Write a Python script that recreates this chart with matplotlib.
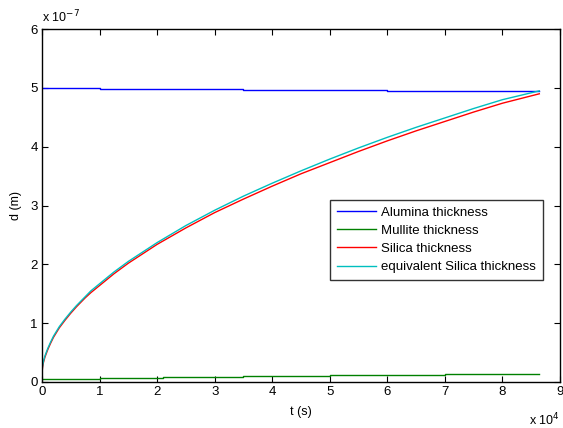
import matplotlib
matplotlib.use("Agg")
import matplotlib.pyplot as plt

plt.rcParams['font.family'] = ['Liberation Sans', 'DejaVu Sans']

# time (s) and thicknesses in units of 1e-7 m
t_curve = [0, 50, 100, 250, 500, 1000, 1500, 2000, 3000, 4000, 5000, 6000,
           7500, 8500, 10000, 12500, 15000, 17500, 20000, 25000, 30000, 35000,
           40000, 45000, 50000, 55000, 60000, 65000, 70000, 75000, 80000, 86400]
silica = [0.10, 0.20, 0.25, 0.33, 0.42, 0.55, 0.66, 0.76, 0.92, 1.05, 1.17,
          1.28, 1.43, 1.52, 1.64, 1.84, 2.02, 2.18, 2.34, 2.62, 2.88, 3.11,
          3.33, 3.54, 3.73, 3.92, 4.10, 4.27, 4.43, 4.59, 4.74, 4.90]
eq_silica = [0.12, 0.22, 0.27, 0.35, 0.44, 0.57, 0.68, 0.78, 0.94, 1.07, 1.19,
             1.30, 1.45, 1.55, 1.67, 1.87, 2.05, 2.21, 2.37, 2.66, 2.92, 3.16,
             3.38, 3.59, 3.79, 3.98, 4.16, 4.33, 4.49, 4.65, 4.80, 4.95]

t_step = [0, 10000, 10000, 35000, 35000, 60000, 60000, 86400]
alumina = [5.00, 5.00, 4.98, 4.98, 4.97, 4.97, 4.95, 4.95]

t_mull = [0, 10000, 10000, 21000, 21000, 35000, 35000, 50000, 50000, 70000, 70000, 86400]
mullite = [0.05, 0.05, 0.07, 0.07, 0.09, 0.09, 0.10, 0.10, 0.12, 0.12, 0.14, 0.14]

labels = ['Alumina thickness', 'Mullite thickness', 'Silica thickness',
          'equivalent Silica thickness']

fig = plt.figure(figsize=(5.63, 4.28), dpi=100)
ax = fig.add_axes([0.0746, 0.1075, 0.9201, 0.8245])

ax.plot([t / 1e4 for t in t_step], alumina, color='#0000ff', lw=1.0, label=labels[0])
ax.plot([t / 1e4 for t in t_mull], mullite, color='#008000', lw=1.0, label=labels[1])
ax.plot([t / 1e4 for t in t_curve], silica, color='#ff0000', lw=1.0, label=labels[2])
ax.plot([t / 1e4 for t in t_curve], eq_silica, color='#00bfbf', lw=1.0, label=labels[3])

ax.set_xlim(0, 9)
ax.set_ylim(0, 6)
ax.set_xticks(range(10))
ax.set_yticks(range(7))
ax.tick_params(direction='in', top=True, right=True, length=4, labelsize=9.5, pad=3)
for s in ax.spines.values():
    s.set_linewidth(1.0)

ax.set_xlabel('t (s)', fontsize=9, labelpad=6)
ax.set_ylabel('d (m)', fontsize=9, labelpad=6)
ax.text(0.0, 1.012, 'x 10$^{-7}$', transform=ax.transAxes, fontsize=9, ha='left', va='bottom')
ax.text(1.0, -0.085, 'x 10$^{4}$', transform=ax.transAxes, fontsize=9, ha='right', va='top')

leg = ax.legend(loc='upper left', bbox_to_anchor=(0.556, 0.516), fontsize=9.5,
                frameon=True, fancybox=False, edgecolor='black', handlelength=3.0,
                borderpad=0.5, labelspacing=0.45, handletextpad=0.4, borderaxespad=0)
leg.get_frame().set_linewidth(1.0)

fig.savefig('out.png', dpi=100)
